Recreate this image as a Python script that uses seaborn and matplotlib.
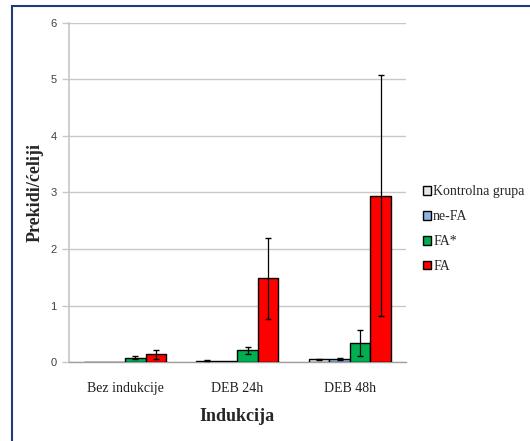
import numpy as np
import pandas as pd
import matplotlib
matplotlib.use("Agg")
import matplotlib.pyplot as plt
from matplotlib.patches import Rectangle
import seaborn as sns

categories = ["Bez indukcije", "DEB 24h", "DEB 48h"]
groups = ["Kontrolna grupa", "ne-FA", "FA*", "FA"]
values = {
    "Kontrolna grupa": [0.0, 0.02, 0.05],
    "ne-FA": [0.0, 0.01, 0.05],
    "FA*": [0.08, 0.21, 0.33],
    "FA": [0.14, 1.48, 2.94],
}
errors = {
    "Kontrolna grupa": [0.0, 0.01, 0.01],
    "ne-FA": [0.0, 0.0, 0.02],
    "FA*": [0.03, 0.06, 0.23],
    "FA": [0.08, 0.72, 2.13],
}
colors = ["#e6e6e6", "#8eb4e3", "#00b050", "#ff0000"]
yticks = [0, 1, 2, 3, 4, 5, 6]

rows = []
for g in groups:
    for c, v, e in zip(categories, values[g], errors[g]):
        rows.append({"Indukcija": c, "Grupa": g, "Vrijednost": v, "Greska": e})
df = pd.DataFrame(rows)

sns.set_theme(style="white")
plt.rcParams["font.family"] = ["Liberation Serif", "DejaVu Serif"]

fig = plt.figure(figsize=(5.3, 4.41), dpi=100)
ax = fig.add_axes([0.130, 0.179, 0.636, 0.769])

sns.barplot(data=df, x="Indukcija", y="Vrijednost", hue="Grupa",
            order=categories, hue_order=groups, palette=colors, saturation=1,
            width=0.73, errorbar=None, edgecolor="black", linewidth=1.0,
            ax=ax, legend=False, zorder=3)

# error bars from each bar's centre and height
for gi, g in enumerate(groups):
    conts = ax.containers[gi]
    for bar, e in zip(conts, errors[g]):
        if e <= 0:
            continue
        xc = bar.get_x() + bar.get_width() / 2
        ax.errorbar(xc, bar.get_height(), yerr=e, fmt="none", ecolor="black",
                    elinewidth=0.9, capsize=2.5, capthick=1.0, zorder=4)

ax.set_ylim(0, 6)
ax.set_xlim(-0.5, 2.5)
ax.set_yticks(yticks)
ax.set_yticklabels([str(t) for t in yticks], fontfamily="Liberation Sans",
                   fontsize=8, color="#404040")
ax.yaxis.grid(True, color="#c8c8c8", linewidth=1.0, zorder=0)
ax.set_axisbelow(True)
ax.tick_params(axis="y", length=5, color="#c8c8c8", width=1.0, pad=4, left=True)
ax.tick_params(axis="x", length=0, labelsize=10, pad=14, labelcolor="#202020")
for s in ["top", "right"]:
    ax.spines[s].set_visible(False)
ax.spines["left"].set_color("#c8c8c8")
ax.spines["bottom"].set_color("#a0a0a0")
ax.spines["bottom"].set_linewidth(1.0)

ax.set_xlabel("Indukcija", fontsize=13, fontweight="bold", labelpad=10)
ax.set_ylabel("Prekidi/ćeliji", fontsize=13, fontweight="bold")
ax.yaxis.set_label_coords(-0.075, 0.5)

handles = [Rectangle((0, 0), 1, 1, facecolor=c, edgecolor="black", linewidth=1.0)
           for c in colors]
fig.legend(handles, groups, loc="upper left", bbox_to_anchor=(0.787, 0.592),
           frameon=False, fontsize=10, handlelength=0.6, handleheight=0.6,
           handletextpad=0.15, labelspacing=0.85, borderaxespad=0)

# dark frame along top and left edges
fig.patches.append(Rectangle((0.023, -0.01), 1.0, 0.997, transform=fig.transFigure,
                             fill=False, edgecolor="#1f3c7a", linewidth=1.5))

fig.savefig("out.png", dpi=100)
